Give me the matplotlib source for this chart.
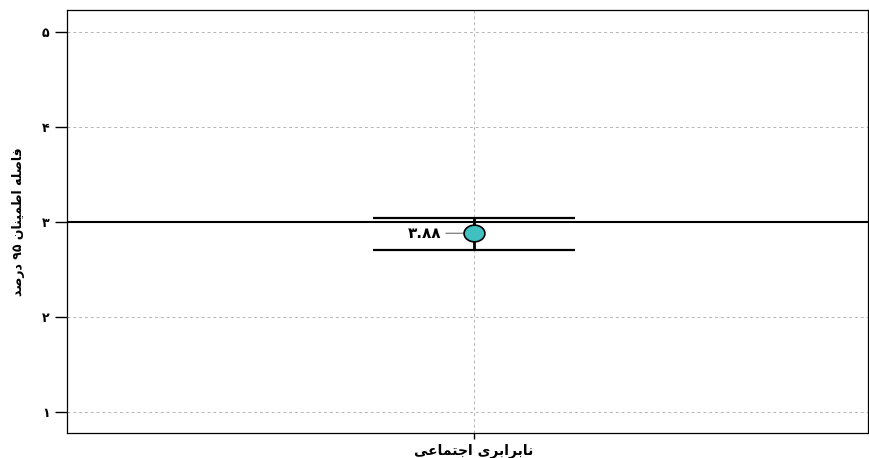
import numpy as np
import matplotlib
matplotlib.use("Agg")
import matplotlib.pyplot as plt

# data
category = ["\ufef0\ufecb\ufe8e\ufee4\ufe98\ufe9f\ufe8d \ufeef\ufeae\ufe91\ufe8d\ufeae\ufe91\ufe8e\ufee7"]  # نابرابری اجتماعی (shaped, visual order)
mean = [2.88]
lower = [2.70]
upper = [3.04]
mean_label = ["\u06f3.\u06f8\u06f8"]
yticks = [1, 2, 3, 4, 5]
ytick_labels = ["\u06f1", "\u06f2", "\u06f3", "\u06f4", "\u06f5"]
ref_value = 3
ylabel = ("\ufeaa\ufebb\ufead\ufea9 \u06f9\u06f5 "
          "\ufee5\ufe8e\ufee8\ufef4\ufee4\ufec3\ufe8d "
          "\ufeea\ufee0\ufebb\ufe8e\ufed3")  # فاصله اطمینان ۹۵ درصد

plt.rcParams['font.family'] = ['DejaVu Sans']

fig = plt.figure(figsize=(8.7, 4.58), dpi=100)
ax = fig.add_axes([0.077, 0.055, 0.921, 0.923])

x = np.arange(len(mean))
ax.axhline(ref_value, color="black", lw=1.5, zorder=2)
ax.grid(True, linestyle=(0, (3, 3)), color="#b5b5b5", lw=0.7)
ax.set_axisbelow(True)

yerr = [np.array(mean) - np.array(lower), np.array(upper) - np.array(mean)]
t = np.linspace(0, 2 * np.pi, 60)
ell = list(zip(np.cos(t), 0.8 * np.sin(t)))
ax.errorbar(x, mean, yerr=yerr, fmt="none", ecolor="black", elinewidth=2,
            capsize=73, capthick=1.6, zorder=3)
ax.plot(x, mean, linestyle="none", marker=ell, markersize=15,
        markerfacecolor="#40c0c0", markeredgecolor="black",
        markeredgewidth=1.2, zorder=4)

for xi, m, lab in zip(x, mean, mean_label):
    ax.annotate(lab, xy=(xi, m), xytext=(-23, 0), textcoords="offset points",
                ha="right", va="center", fontsize=11, fontweight="bold",
                arrowprops=dict(arrowstyle="-", color="#888888", lw=1,
                                shrinkA=1, shrinkB=7))

ax.set_xlim(-1.0, 0.97)
ax.set_ylim(0.78, 5.23)
ax.set_xticks(x)
ax.set_xticklabels(category, fontsize=10, fontweight="bold")
ax.set_yticks(yticks)
ax.set_yticklabels(ytick_labels, fontsize=9, fontweight="bold")
ax.tick_params(axis="y", length=9, width=1)
ax.tick_params(axis="x", length=4, width=1)
ax.set_ylabel(ylabel, fontsize=9, fontweight="bold", labelpad=12)
for s in ax.spines.values():
    s.set_linewidth(0.9)

fig.savefig("out.png", dpi=100)
